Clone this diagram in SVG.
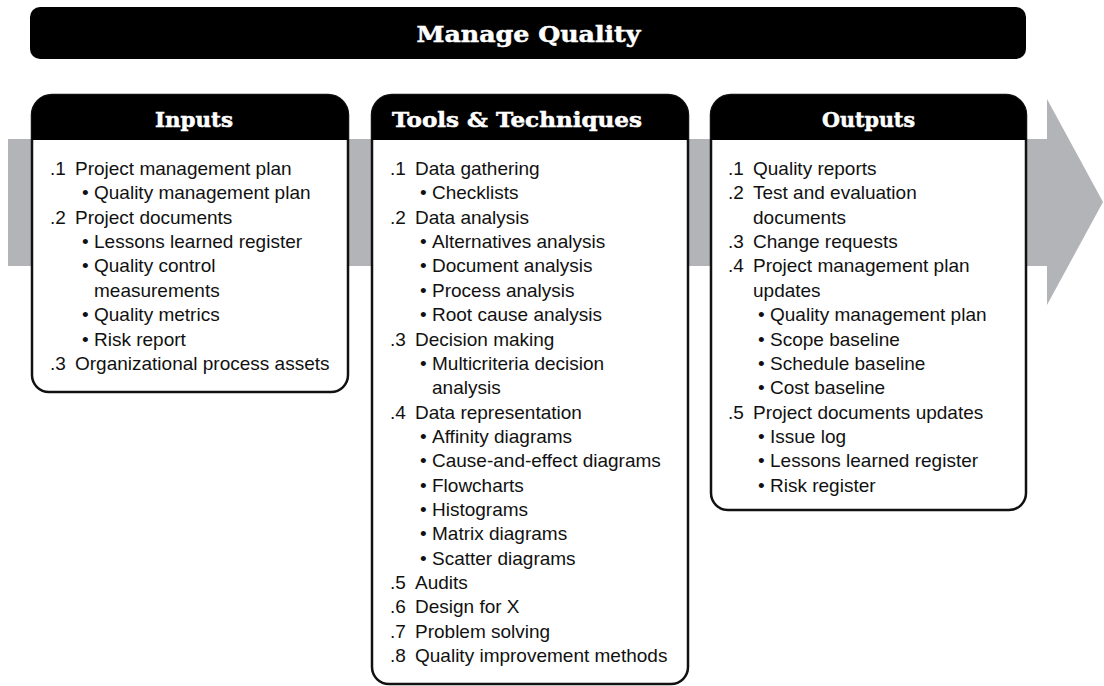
<svg xmlns="http://www.w3.org/2000/svg" width="1104" height="686" viewBox="0 0 1104 686">
<style>
.hd{font-family:"DejaVu Serif","Liberation Serif",serif;font-weight:bold;fill:#fff;stroke:#fff;stroke-width:0.5;text-anchor:middle}
.t{font-family:"Liberation Sans",Arial,sans-serif;font-size:19px;fill:#111}
.box{fill:#fff;stroke:#111;stroke-width:2.5}
.hdr{fill:#000}
</style>
<rect width="1104" height="686" fill="#fff"/>
<g id="band">
<polygon points="8,139 1047,139 1047,99 1103,202 1047,305 1047,266 8,266" fill="#b2b4b7"/>
</g>
<g id="title">
<rect x="30" y="7" width="996" height="52" rx="10" fill="#000"/>
<text class="hd" x="528.5" y="42" font-size="22" textLength="224" lengthAdjust="spacingAndGlyphs">Manage Quality</text>
</g>
<g id="inputs">
<path class="box" d="M52,95 H328 A20,20 0 0 1 348,115 V375 A17,17 0 0 1 331,392 H49 A17,17 0 0 1 32,375 V115 A20,20 0 0 1 52,95 Z"/>
<path class="hdr" d="M52,95 H328 A20,20 0 0 1 348,115 V140 H32 V115 A20,20 0 0 1 52,95 Z"/>
<text class="hd" x="194" y="127" font-size="20" textLength="78" lengthAdjust="spacingAndGlyphs">Inputs</text>
<text class="t" x="50" y="175">.1</text><text class="t" x="75" y="175">Project management plan</text>
<text class="t" x="82" y="199.4">•</text><text class="t" x="94" y="199.4">Quality management plan</text>
<text class="t" x="50" y="223.7">.2</text><text class="t" x="75" y="223.7">Project documents</text>
<text class="t" x="82" y="248.1">•</text><text class="t" x="94" y="248.1">Lessons learned register</text>
<text class="t" x="82" y="272.4">•</text><text class="t" x="94" y="272.4">Quality control</text>
<text class="t" x="94" y="296.8">measurements</text>
<text class="t" x="82" y="321.1">•</text><text class="t" x="94" y="321.1">Quality metrics</text>
<text class="t" x="82" y="345.5">•</text><text class="t" x="94" y="345.5">Risk report</text>
<text class="t" x="50" y="369.8">.3</text><text class="t" x="75" y="369.8">Organizational process assets</text>
</g>
<g id="tools">
<path class="box" d="M392,95 H668 A20,20 0 0 1 688,115 V667 A17,17 0 0 1 671,684 H389 A17,17 0 0 1 372,667 V115 A20,20 0 0 1 392,95 Z"/>
<path class="hdr" d="M392,95 H668 A20,20 0 0 1 688,115 V140 H372 V115 A20,20 0 0 1 392,95 Z"/>
<text class="hd" x="517" y="127" font-size="20" textLength="250" lengthAdjust="spacingAndGlyphs">Tools &amp; Techniques</text>
<text class="t" x="390" y="175">.1</text><text class="t" x="415" y="175">Data gathering</text>
<text class="t" x="420" y="199.4">•</text><text class="t" x="432" y="199.4">Checklists</text>
<text class="t" x="390" y="223.7">.2</text><text class="t" x="415" y="223.7">Data analysis</text>
<text class="t" x="420" y="248.1">•</text><text class="t" x="432" y="248.1">Alternatives analysis</text>
<text class="t" x="420" y="272.4">•</text><text class="t" x="432" y="272.4">Document analysis</text>
<text class="t" x="420" y="296.8">•</text><text class="t" x="432" y="296.8">Process analysis</text>
<text class="t" x="420" y="321.1">•</text><text class="t" x="432" y="321.1">Root cause analysis</text>
<text class="t" x="390" y="345.5">.3</text><text class="t" x="415" y="345.5">Decision making</text>
<text class="t" x="420" y="369.8">•</text><text class="t" x="432" y="369.8">Multicriteria decision</text>
<text class="t" x="432" y="394.2">analysis</text>
<text class="t" x="390" y="418.5">.4</text><text class="t" x="415" y="418.5">Data representation</text>
<text class="t" x="420" y="442.9">•</text><text class="t" x="432" y="442.9">Affinity diagrams</text>
<text class="t" x="420" y="467.2">•</text><text class="t" x="432" y="467.2">Cause-and-effect diagrams</text>
<text class="t" x="420" y="491.6">•</text><text class="t" x="432" y="491.6">Flowcharts</text>
<text class="t" x="420" y="515.9">•</text><text class="t" x="432" y="515.9">Histograms</text>
<text class="t" x="420" y="540.3">•</text><text class="t" x="432" y="540.3">Matrix diagrams</text>
<text class="t" x="420" y="564.6">•</text><text class="t" x="432" y="564.6">Scatter diagrams</text>
<text class="t" x="390" y="589">.5</text><text class="t" x="415" y="589">Audits</text>
<text class="t" x="390" y="613.3">.6</text><text class="t" x="415" y="613.3">Design for X</text>
<text class="t" x="390" y="637.7">.7</text><text class="t" x="415" y="637.7">Problem solving</text>
<text class="t" x="390" y="662">.8</text><text class="t" x="415" y="662">Quality improvement methods</text>
</g>
<g id="outputs">
<path class="box" d="M731,95 H1006 A20,20 0 0 1 1026,115 V493 A17,17 0 0 1 1009,510 H728 A17,17 0 0 1 711,493 V115 A20,20 0 0 1 731,95 Z"/>
<path class="hdr" d="M731,95 H1006 A20,20 0 0 1 1026,115 V140 H711 V115 A20,20 0 0 1 731,95 Z"/>
<text class="hd" x="868.5" y="127" font-size="20" textLength="93" lengthAdjust="spacingAndGlyphs">Outputs</text>
<text class="t" x="728" y="175">.1</text><text class="t" x="753" y="175">Quality reports</text>
<text class="t" x="728" y="199.4">.2</text><text class="t" x="753" y="199.4">Test and evaluation</text>
<text class="t" x="753" y="223.7">documents</text>
<text class="t" x="728" y="248.1">.3</text><text class="t" x="753" y="248.1">Change requests</text>
<text class="t" x="728" y="272.4">.4</text><text class="t" x="753" y="272.4">Project management plan</text>
<text class="t" x="753" y="296.8">updates</text>
<text class="t" x="758" y="321.1">•</text><text class="t" x="770" y="321.1">Quality management plan</text>
<text class="t" x="758" y="345.5">•</text><text class="t" x="770" y="345.5">Scope baseline</text>
<text class="t" x="758" y="369.8">•</text><text class="t" x="770" y="369.8">Schedule baseline</text>
<text class="t" x="758" y="394.2">•</text><text class="t" x="770" y="394.2">Cost baseline</text>
<text class="t" x="728" y="418.5">.5</text><text class="t" x="753" y="418.5">Project documents updates</text>
<text class="t" x="758" y="442.9">•</text><text class="t" x="770" y="442.9">Issue log</text>
<text class="t" x="758" y="467.2">•</text><text class="t" x="770" y="467.2">Lessons learned register</text>
<text class="t" x="758" y="491.6">•</text><text class="t" x="770" y="491.6">Risk register</text>
</g>
<g id="connectors"></g>
</svg>
